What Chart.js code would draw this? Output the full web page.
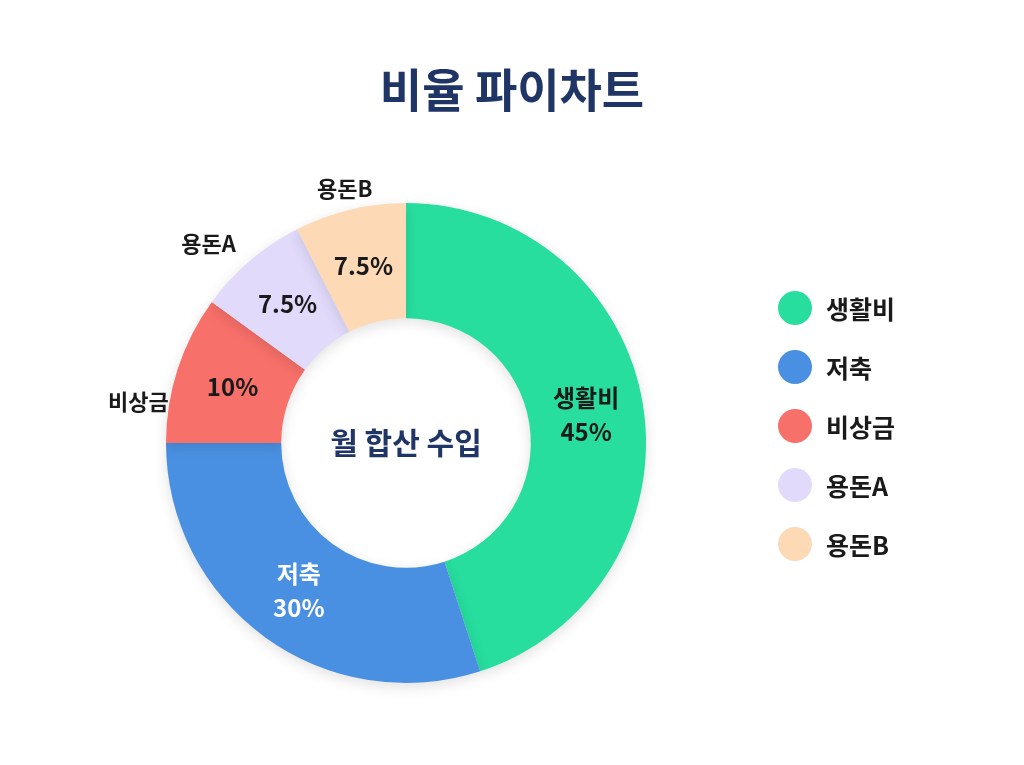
<!DOCTYPE html>
<html><head><meta charset="utf-8">
<script src="https://cdn.jsdelivr.net/npm/chart.js@4"></script>
<style>html,body{margin:0;background:#fff}canvas{display:block}</style>
</head><body>
<canvas id="c" width="1024" height="765"></canvas>
<script>
const categories = ['생활비','저축','비상금','용돈A','용돈B'];
const values = [45,30,10,7.5,7.5];
const percentLabels = ['45%','30%','10%','7.5%','7.5%'];
const colors = ['#27DE9E','#4A90E2','#F8706A','#E2DAFB','#FDD9B6'];
const outside = [false,false,true,true,true];
const FONT = '"Noto Sans CJK KR", "Noto Sans", sans-serif';
const NAVY = '#1F3566';

const shadow = {
  id:'shadow',
  beforeDatasetsDraw(ch){ const c=ch.ctx; c.save(); c.shadowColor='rgba(0,0,0,0.12)'; c.shadowBlur=14; c.shadowOffsetY=4; },
  afterDatasetsDraw(ch){ ch.ctx.restore(); }
};
const labels = {
  id:'labels',
  afterDraw(ch){
    const c=ch.ctx; const meta=ch.getDatasetMeta(0);
    c.save();
    c.fillStyle=NAVY; c.textAlign='center'; c.textBaseline='middle';
    c.font='bold 46px '+FONT; c.fillText('비율 파이차트',512,90);
    const a0=meta.data[0];
    c.font='bold 30px '+FONT; c.fillText('월 합산 수입',a0.x,443-a0.y+a0.y);
    meta.data.forEach((a,i)=>{
      const mid=(a.startAngle+a.endAngle)/2;
      const rm=(a.innerRadius+a.outerRadius)/2;
      const x=a.x+Math.cos(mid)*rm, y=a.y+Math.sin(mid)*rm;
      c.font='bold 24px '+FONT;
      c.fillStyle = i===1 ? '#fff' : '#1a1a1a';
      if(outside[i]){
        c.fillText(percentLabels[i],x,y);
        const ro=a.outerRadius+22;
        let ox=a.x+Math.cos(mid)*ro, oy=a.y+Math.sin(mid)*ro;
        c.font='bold 22px '+FONT; c.fillStyle='#1a1a1a';
        if(Math.cos(mid)<-0.3){ c.textAlign='right'; } else c.textAlign='center';
        if(i===2){ oy+=40; ox+=12; }
        c.fillText(categories[i],ox,oy);
        c.textAlign='center';
      } else {
        c.fillText(categories[i],x,y-17);
        c.fillText(percentLabels[i],x,y+17);
      }
    });
    // legend
    c.textAlign='left';
    categories.forEach((n,i)=>{
      const ly=308+i*59;
      c.beginPath(); c.arc(795,ly,17,0,Math.PI*2); c.fillStyle=colors[i]; c.fill();
      c.fillStyle='#1a1a1a'; c.font='bold 25px '+FONT; c.fillText(n,826,ly+1);
    });
    c.restore();
  }
};
new Chart(document.getElementById('c'),{
  type:'doughnut',
  data:{labels:categories,datasets:[{data:values,backgroundColor:colors,borderWidth:0}]},
  options:{responsive:false,animation:false,cutout:'52%',
    layout:{padding:{top:203,bottom:82,left:166,right:378}},
    plugins:{legend:{display:false},tooltip:{enabled:false}}},
  plugins:[shadow,labels]
});
</script></body></html>
